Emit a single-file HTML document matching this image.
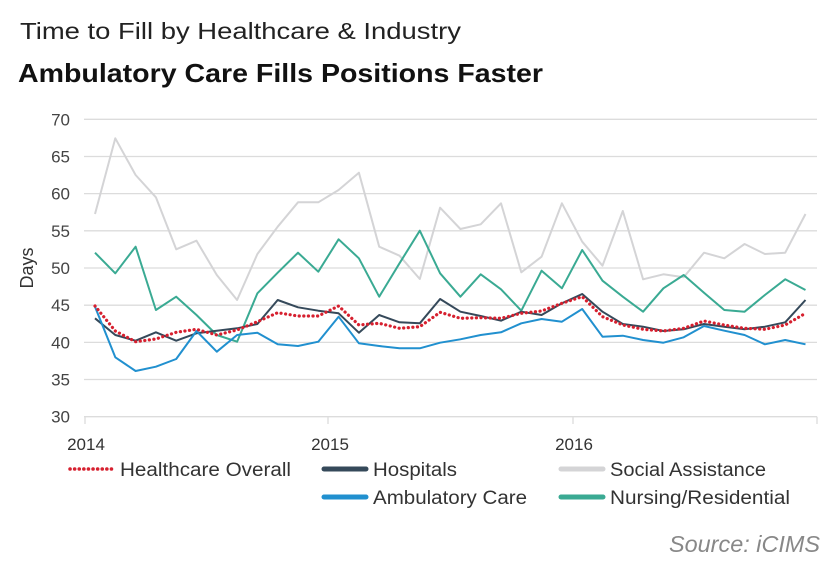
<!DOCTYPE html>
<html><head><meta charset="utf-8"><style>
html,body{margin:0;padding:0;background:#fff;}
svg{display:block;font-family:"Liberation Sans",sans-serif;}
</style></head><body>
<svg id="s" width="827" height="580" viewBox="0 0 827 580">
<text x="20" y="39" font-size="23" fill="#222" textLength="441" lengthAdjust="spacingAndGlyphs">Time to Fill by Healthcare &amp; Industry</text>
<text x="18" y="82" font-size="26" font-weight="bold" fill="#111" textLength="525" lengthAdjust="spacingAndGlyphs">Ambulatory Care Fills Positions Faster</text>
<g id="grid"></g>
<text transform="translate(33,268) rotate(-90)" text-anchor="middle" font-size="18" fill="#333">Days</text>
<g font-size="17" fill="#333" text-anchor="middle">
<text x="86" y="450">2014</text><text x="330" y="450">2015</text><text x="574" y="450">2016</text>
</g>
<g id="lines" fill="none" stroke-linejoin="round"></g>
<g font-size="19" fill="#333">
<line x1="70" y1="469" x2="112" y2="469" stroke="#d6202f" stroke-width="3.5" stroke-dasharray="0.1 4.5" stroke-linecap="round"/>
<text x="120" y="476" textLength="171" lengthAdjust="spacingAndGlyphs">Healthcare Overall</text>
<line x1="324" y1="469" x2="366" y2="469" stroke="#35495a" stroke-width="5" stroke-linecap="round"/>
<text x="373" y="476" textLength="84" lengthAdjust="spacingAndGlyphs">Hospitals</text>
<line x1="561" y1="469" x2="603" y2="469" stroke="#d4d4d6" stroke-width="5" stroke-linecap="round"/>
<text x="610" y="476" textLength="156" lengthAdjust="spacingAndGlyphs">Social Assistance</text>
<line x1="324" y1="497" x2="366" y2="497" stroke="#2190cf" stroke-width="5" stroke-linecap="round"/>
<text x="373" y="504" textLength="154" lengthAdjust="spacingAndGlyphs">Ambulatory Care</text>
<line x1="561" y1="497" x2="603" y2="497" stroke="#3aaa93" stroke-width="5" stroke-linecap="round"/>
<text x="610" y="504" textLength="180" lengthAdjust="spacingAndGlyphs">Nursing/Residential</text>
</g>
<text x="669" y="552" font-size="23" font-style="italic" fill="#888" textLength="151" lengthAdjust="spacingAndGlyphs">Source: iCIMS</text>
</svg>
<script>
var ns="http://www.w3.org/2000/svg";
function el(n,a,p){var e=document.createElementNS(ns,n);for(var k in a)e.setAttribute(k,a[k]);p.appendChild(e);return e;}
var g=document.getElementById('grid');
for(var v=30;v<=70;v+=5){var y=416.7-(v-30)*7.435;
 el('line',{x1:84,x2:817,y1:y,y2:y,stroke:'#dcdcdc','stroke-width':1.3},g);
 var t=el('text',{x:70,y:y+6,'font-size':17,fill:'#444','text-anchor':'end'},g);t.textContent=v;}
[85,328,573,817].forEach(function(x){el('line',{x1:x,x2:x,y1:416.7,y2:424,stroke:'#dcdcdc','stroke-width':1.3},g);});
var L=document.getElementById('lines');
var d={
soc:[342,115,225,292,448,422,525,600,462,380,307,307,270,218,440,467,537,323,387,373,310,517,470,310,425,497,333,538,523,532,458,475,432,462,458,342],
nur:[458,520,440,630,590,645,705,725,580,518,458,515,418,475,590,490,392,520,590,523,568,632,512,565,450,542,590,635,565,525,578,630,635,585,538,570],
hos:[655,705,722,697,722,700,692,685,672,600,622,632,640,698,645,667,670,597,635,648,662,635,645,610,582,635,672,680,693,688,672,680,688,680,667,600],
amb:[620,772,813,800,777,693,755,705,698,733,738,725,650,730,738,745,745,728,718,705,697,670,657,665,627,710,707,720,728,712,678,692,705,733,720,733],
hc:[618,693,725,717,697,688,705,690,665,638,648,648,618,675,670,685,680,637,655,653,655,640,633,610,590,650,675,688,693,685,663,675,685,688,675,640]};
function pts(a){return a.map(function(z,i){return (95+i*20.3).toFixed(1)+','+(z/3+100).toFixed(1);}).join(' ');}
el('polyline',{points:pts(d.soc),stroke:'#d4d4d6','stroke-width':2},L);
el('polyline',{points:pts(d.nur),stroke:'#3aaa93','stroke-width':2},L);
el('polyline',{points:pts(d.hos),stroke:'#35495a','stroke-width':2},L);
el('polyline',{points:pts(d.amb),stroke:'#2190cf','stroke-width':2},L);
el('polyline',{points:pts(d.hc),stroke:'#d6202f','stroke-width':3.2,'stroke-dasharray':'0.1 4.5','stroke-linecap':'round'},L);
</script>
</body></html>
